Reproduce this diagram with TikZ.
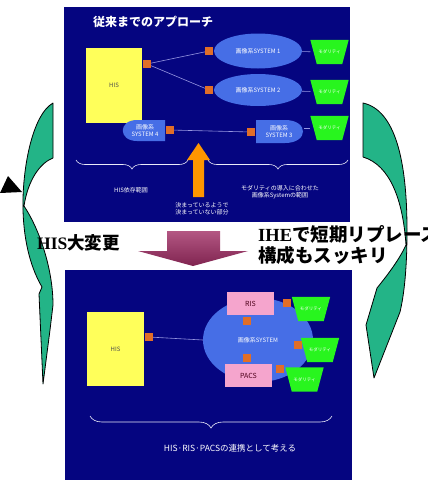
\documentclass[tikz,border=0pt]{standalone}
\usepackage{fontspec}
\setmainfont{Noto Sans CJK JP}
\newfontfamily\lser{Liberation Serif}
\usetikzlibrary{decorations.pathreplacing,shapes.geometric}
\definecolor{panel}{RGB}{5,5,128}
\definecolor{ellblue}{RGB}{70,110,230}
\definecolor{sqor}{RGB}{225,110,40}
\definecolor{his}{RGB}{255,255,90}
\definecolor{pinkbox}{RGB}{245,165,205}
\definecolor{modg}{RGB}{40,245,30}
\definecolor{linec}{RGB}{150,150,225}
\definecolor{garrow}{RGB}{35,180,135}
\definecolor{oarrow}{RGB}{255,150,0}
\definecolor{marrow}{RGB}{160,45,100}
\newcommand\modalbox[2]{%
  \node[modalbase] (#1) at (#2) {};
  \fill[modg] (#1.north west) -- (#1.north east) -- ([xshift=-6.5pt]#1.south east) -- ([xshift=6.5pt]#1.south west) -- cycle;
  \node[modtext] (#1t) at (#1) {モダリティ};
}
\begin{document}
\begin{tikzpicture}[x=1pt,y=-1pt,
  tiny/.style={font=\fontsize{6}{7}\selectfont, text=white, inner sep=0pt, align=center},
  sq/.style={fill=sqor, minimum size=8pt, inner sep=0pt},
  modalbase/.style={minimum width=38pt, minimum height=24pt, inner sep=0pt},
  modtext/.style={font=\fontsize{4.5}{5}\selectfont, text=white, inner sep=0pt},
  conn/.style={draw=linec, line width=0.6pt},
  brc/.style={draw=white!80!linec, line width=0.6pt, decorate, decoration={brace, amplitude=9pt, mirror}},
  garr/.style={fill=garrow, draw=black, line width=0.8pt, line join=round},
  big/.style={font=\fontsize{18.5}{20}\selectfont\bfseries, inner sep=0pt, anchor=west}
]
\useasboundingbox (0,0) rectangle (428,482);
\fill[white] (0,0) rectangle (428,482);

% green curved arrows
\draw[garr] (53,103) .. controls (32,115) and (22,170) .. (23,210)
   .. controls (24,245) and (32,270) .. (42,287) -- (39,294) -- (43,384)
   -- (50,330) -- (53,305) .. controls (53,270) and (40,230) .. (24,206)
   .. controls (28,180) and (40,163) .. (53,158) -- cycle;
\draw[garr] (363,103) .. controls (395,110) and (407,160) .. (407,230)
   .. controls (407,270) and (404,295) .. (400,312) -- (374,378) -- (366,325) -- (377,288)
   .. controls (390,272) and (400,258) .. (406,245)
   .. controls (403,200) and (390,165) .. (363,157) -- cycle;
\fill[black] (0,193) -- (8,176) -- (22,192) -- cycle;

% ---------- top panel ----------
\fill[panel] (64,7) rectangle (350,222);
\node[font=\fontsize{12}{13}\selectfont\bfseries, text=white, inner sep=0pt, anchor=west] (title) at (93,22) {従来までのアプローチ};

\node[fill=his, minimum width=56pt, minimum height=75pt, inner sep=0pt,
      font=\fontsize{6}{7}\selectfont, text=black!70] (his1) at (114,85.5) {HIS};
\node[sq] (s0) at (147,64) {};
\node[sq] (s1) at (209,51) {};
\node[sq] (s2) at (209,90) {};
\node[ellipse, fill=ellblue, minimum width=88pt, minimum height=35pt, inner sep=0pt, tiny] (e1) at (258,51) {画像系SYSTEM 1};
\node[ellipse, fill=ellblue, minimum width=88pt, minimum height=32pt, inner sep=0pt, tiny] (e2) at (258,90) {画像系SYSTEM 2};
\modalbox{t1}{329.5,52}
\modalbox{t2}{329.5,92}
\modalbox{t3}{329.5,128}
\draw[conn] (s0) -- (s1);
\draw[conn] (s0) -- (s2);
\draw[conn] (e1) -- (t1);
\draw[conn] (e2) -- (t2);

\fill[ellblue] (165,120) -- (137,120) .. controls (118,120) and (118,141) .. (137,141) -- (165,141) -- cycle;
\node[tiny] (e4) at (145,130.5) {画像系\\SYSTEM 4};
\fill[ellblue] (256,120) -- (285,120) .. controls (309,120) and (309,143) .. (285,143) -- (256,143) -- cycle;
\node[tiny] (e3) at (279,131.5) {画像系\\SYSTEM 3};
\node[sq] (s3) at (170,130) {};
\node[sq] (s4) at (251,132) {};
\coordinate (e3e) at (304,128);
\draw[conn] (s3) -- (s4);
\draw[conn] (e3e) -- (t3.west);

\draw[brc] (76,160) -- (188,160);
\draw[brc] (208,160) -- (348,160);
\node[tiny] (l1) at (131,190) {HIS依存範囲};
\node[tiny] (l2) at (280,192) {モダリティの導入に合わせた\\画像系Systemの範囲};
\fill[oarrow] (193,197) -- (193,160) -- (187,160) -- (198.5,143) -- (210,160) -- (204,160) -- (204,197) -- cycle;
\node[tiny] (l3) at (202,209) {決まっているようで\\決まっていない部分};

% ---------- middle ----------
\shade[top color=marrow!80!white, bottom color=marrow!80!black]
  (167,231) -- (220,231) -- (220,251) -- (248,251) -- (193,266) -- (138,251) -- (167,251) -- cycle;
\node[big, font=\fontsize{17.5}{19}\selectfont\bfseries] (m1) at (37,243) {{\lser HIS}大変更};
\node[big] (m2) at (258,234) {{\lser IHE}で短期リプレース};
\node[big] (m3) at (258,255) {構成もスッキリ};

% ---------- bottom panel ----------
\fill[panel] (65,270) rectangle (352,480);
\node[fill=his, minimum width=57pt, minimum height=74pt, inner sep=0pt,
      font=\fontsize{6}{7}\selectfont, text=black!70] (his2) at (115.5,349) {HIS};
\node[sq] (s5) at (149,337) {};
\node[ellipse, fill=ellblue, minimum width=110pt, minimum height=84pt, inner sep=0pt, tiny] (cl) at (258,340) {画像系SYSTEM};
\draw[conn] (s5) -- (cl.west);
\node[fill=pinkbox, minimum width=47pt, minimum height=23pt, inner sep=0pt,
      font=\fontsize{7}{8}\selectfont, text=black!60!purple] (ris) at (250.5,303.5) {RIS};
\node[fill=pinkbox, minimum width=47pt, minimum height=23pt, inner sep=0pt,
      font=\fontsize{7}{8}\selectfont, text=black!60!purple] (pacs) at (248.5,375.5) {PACS};
\node[sq] (s6) at (247,321) {};
\node[sq] (s7) at (247,358) {};
\node[sq] (s8) at (287,303) {};
\node[sq] (s9) at (298,345) {};
\node[sq] (s10) at (280,369) {};
\modalbox{b1}{311,309}
\modalbox{b2}{320,350}
\modalbox{b3}{304.5,379.5}
\draw[brc, decoration={brace, amplitude=12pt, mirror}] (90,416) -- (332,416);
\node[font=\fontsize{8.5}{10}\selectfont, text=white, inner sep=0pt] (l4) at (230,448) {HIS·RIS·PACSの連携として考える};
\end{tikzpicture}
\end{document}
